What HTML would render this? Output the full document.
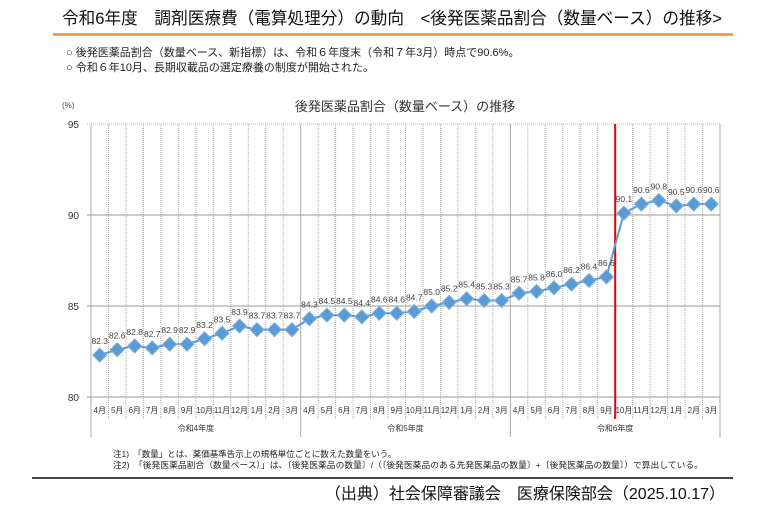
<!DOCTYPE html>
<html><head><meta charset="utf-8">
<style>
body{margin:0;width:780px;height:515px;background:#fff;overflow:hidden;font-family:"Liberation Sans","Noto Sans CJK JP",sans-serif;}
svg text{font-family:"Liberation Sans","Noto Sans CJK JP",sans-serif;}
</style></head><body>
<svg id="s" width="780" height="515" xmlns="http://www.w3.org/2000/svg">
<text x="62" y="24" font-size="17" fill="#111" textLength="660" lengthAdjust="spacingAndGlyphs">令和6年度　調剤医療費（電算処理分）の動向　&lt;後発医薬品割合（数量ベース）の推移&gt;</text>
<line x1="53" y1="34.5" x2="733" y2="34.5" stroke="#f0913a" stroke-width="2.5"/>
<text x="66" y="56" font-size="11" fill="#222">○ 後発医薬品割合（数量ベース、新指標）は、令和６年度末（令和７年3月）時点で90.6%。</text>
<text x="66" y="71" font-size="11" fill="#222">○ 令和６年10月、長期収載品の選定療養の制度が開始された。</text>
<text x="405" y="111" font-size="13" fill="#333" text-anchor="middle">後発医薬品割合（数量ベース）の推移</text>
<text x="62" y="108" font-size="8" fill="#444">(%)</text>
<g id="chart"></g>
<text x="113" y="457" font-size="8.5" fill="#222">注1)　「数量」とは、薬価基準告示上の規格単位ごとに数えた数量をいう。</text>
<text x="113" y="468" font-size="8.5" fill="#222" textLength="590" lengthAdjust="spacingAndGlyphs">注2)　「後発医薬品割合（数量ベース）」は、〔後発医薬品の数量〕/（〔後発医薬品のある先発医薬品の数量〕+〔後発医薬品の数量〕）で算出している。</text>
<line x1="32" y1="478" x2="733" y2="478" stroke="#444" stroke-width="2"/>
<text x="725" y="499" font-size="16" fill="#111" text-anchor="end">（出典）社会保障審議会　医療保険部会（2025.10.17）</text>
</svg>
<script>
var v=[82.3,82.6,82.8,82.7,82.9,82.9,83.2,83.5,83.9,83.7,83.7,83.7,84.3,84.5,84.5,84.4,84.6,84.6,84.7,85.0,85.2,85.4,85.3,85.3,85.7,85.8,86.0,86.2,86.4,86.6,90.1,90.6,90.8,90.5,90.6,90.6];
var m=["4月","5月","6月","7月","8月","9月","10月","11月","12月","1月","2月","3月"];
var L=91,R=720,w=(R-L)/36;
function Y(val){return 397-(val-80)*18.2;}
var h='';
for(var i=0;i<=36;i++){var x=L+i*w;h+='<line x1="'+x+'" y1="124" x2="'+x+'" y2="'+(i%12==0?437:419)+'" stroke="#aaa" stroke-width="1" '+(i%12==0?'':'stroke-dasharray="1,1"')+'/>';}
[95,90,85,80].forEach(function(t){var y=Y(t);h+='<line x1="'+(L-4)+'" y1="'+y+'" x2="'+R+'" y2="'+y+'" stroke="'+(t==95?'#bbb':'#999')+'" '+(t==95?'stroke-dasharray="1,1"':'')+'/>';h+='<text x="79" y="'+(y+4)+'" font-size="10" fill="#333" text-anchor="end">'+t+'</text>';});
h+='<line x1="'+(L+30*w)+'" y1="124" x2="'+(L+30*w)+'" y2="419" stroke="#e00" stroke-width="2"/>';
var p='';for(i=0;i<36;i++){p+=(L+(i+.5)*w)+','+Y(v[i])+' ';}
h+='<polyline points="'+p+'" fill="none" stroke="#5b9bd5" stroke-width="2"/>';
for(i=0;i<36;i++){var x=L+(i+.5)*w,y=Y(v[i]);
h+='<polygon points="'+x+','+(y-7)+' '+(x+7)+','+y+' '+x+','+(y+7)+' '+(x-7)+','+y+'" fill="#5b9bd5" stroke="#7fb2e0" stroke-width="1"/>';
h+='<text x="'+x+'" y="'+(y-11)+'" font-size="8.5" fill="#444" text-anchor="middle">'+v[i].toFixed(1)+'</text>';
h+='<text x="'+x+'" y="413" font-size="8" fill="#333" text-anchor="middle">'+m[i%12]+'</text>';}
["令和4年度","令和5年度","令和6年度"].forEach(function(t,k){h+='<text x="'+(L+(k*12+6)*w)+'" y="431" font-size="8" fill="#333" text-anchor="middle">'+t+'</text>';});
document.getElementById('chart').innerHTML=h;
</script>
</body></html>
